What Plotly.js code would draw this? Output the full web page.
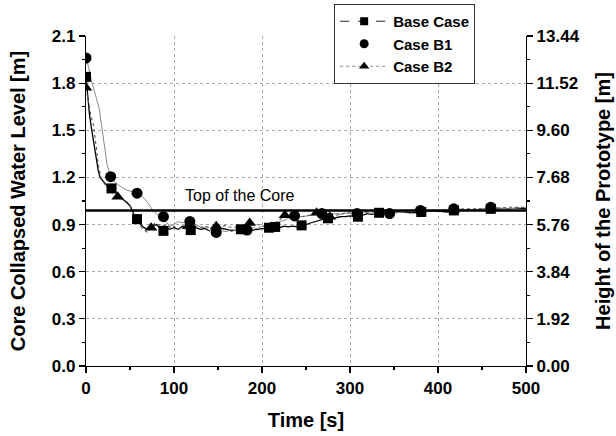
<!DOCTYPE html>
<html>
<head>
<meta charset="utf-8">
<script src="https://cdn.plot.ly/plotly-3.0.1.min.js"></script>
<style>html,body{margin:0;padding:0;background:#fff;}#chart{width:616px;height:436px;}</style>
</head>
<body>
<div id="chart"></div>
<script>
// ---- Data ----
const baseTime = [0,2,4,6,8,10,12,14,16,20,25,29,35,40,45,50,54,58,62,66,70,75,80,85,88,92,95,100,105,110,115,119,125,130,135,140,145,150,155,160,165,170,176,180,185,190,195,200,208,215,220,225,230,235,240,245,250,255,260,265,270,275,280,285,290,295,300,309,315,320,325,333,340,345,352,360,370,381,390,400,410,418,430,440,450,460,470,480,490,500];
const baseLevel = [1.84,1.70,1.60,1.52,1.45,1.38,1.30,1.24,1.20,1.17,1.14,1.13,1.10,1.07,1.05,1.02,0.97,0.935,0.90,0.88,0.87,0.89,0.90,0.87,0.86,0.88,0.87,0.88,0.87,0.89,0.87,0.865,0.88,0.87,0.875,0.86,0.87,0.865,0.875,0.87,0.86,0.865,0.87,0.875,0.87,0.865,0.87,0.875,0.88,0.885,0.88,0.89,0.885,0.89,0.885,0.895,0.90,0.91,0.92,0.93,0.935,0.94,0.935,0.945,0.95,0.95,0.955,0.95,0.96,0.97,0.965,0.975,0.97,0.975,0.98,0.98,0.975,0.98,0.985,0.985,0.98,0.99,0.99,0.995,0.99,1.0,1.0,1.0,1.005,1.0];
const baseMarkTime = [0,29,58,88,119,176,208,215,245,275,309,333,381,418,460];

const b1Time = [0,3,6,9,12,15,18,21,24,28,33,40,46,52,58,64,70,76,82,88,92,96,100,105,110,114,118,125,132,136,140,144,148,155,160,165,170,175,183,190,195,200,205,210,215,220,225,230,237,245,250,255,262,268,275,280,285,290,295,300,308,315,320,326,333,340,345,352,360,370,380,390,400,410,418,430,440,450,460,470,480,490,500];
const b1Level = [1.96,1.90,1.82,1.75,1.70,1.64,1.52,1.40,1.28,1.205,1.17,1.14,1.12,1.11,1.10,1.08,1.04,0.99,0.96,0.95,0.91,0.89,0.90,0.92,0.91,0.925,0.92,0.90,0.88,0.885,0.86,0.87,0.85,0.86,0.855,0.87,0.86,0.86,0.865,0.88,0.875,0.89,0.885,0.90,0.905,0.92,0.925,0.94,0.955,0.95,0.955,0.96,0.965,0.97,0.96,0.965,0.97,0.965,0.975,0.97,0.97,0.98,0.975,0.97,0.975,0.97,0.97,0.975,0.98,0.985,0.99,0.985,0.99,0.99,1.0,0.995,0.995,1.0,1.01,1.005,1.0,1.005,1.01];
const b1MarkTime = [0,28,58,88,118,148,183,237,268,308,345,380,418,460];

const b2Time = [0,2,4,6,8,10,12,14,17,22,28,36,42,48,52,56,60,65,70,74,78,82,86,92,96,100,104,108,112,116,122,126,130,135,140,144,148,153,158,163,168,173,178,186,190,195,200,205,210,215,220,226,230,235,240,245,250,255,262,266,270,277,281,285,290,295,300,305,310,315,322,330,338,345,352,360,370,380,390,400,410,418,430,440,450,460,470,480,490,500];
const b2Level = [1.77,1.70,1.62,1.58,1.55,1.48,1.38,1.28,1.20,1.15,1.11,1.077,1.06,1.04,1.00,0.94,0.90,0.87,0.85,0.88,0.91,0.90,0.89,0.90,0.88,0.89,0.87,0.88,0.875,0.89,0.88,0.885,0.88,0.89,0.88,0.885,0.89,0.88,0.895,0.885,0.88,0.89,0.89,0.91,0.905,0.90,0.895,0.89,0.90,0.91,0.93,0.96,0.955,0.955,0.945,0.95,0.955,0.96,0.975,0.97,0.965,0.95,0.955,0.96,0.965,0.975,0.98,0.98,0.99,0.985,0.98,0.98,0.985,0.985,0.98,0.985,0.99,0.99,0.985,0.99,0.995,0.995,1.0,1.0,1.0,1.0,1.005,1.01,1.01,1.01];
const b2MarkTime = [0,36,74,116,148,186,226,262,277,418,460];

const coreTopTime = [0, 500];
const coreTopLevel = [0.99, 0.99];

const seriesNames = ['Base Case', 'Case B1', 'Case B2'];
const leftTicks = [0, 0.3, 0.6, 0.9, 1.2, 1.5, 1.8, 2.1];
const gridLevels = [0.3, 0.6, 0.9, 1.2, 1.5, 1.8];
const rightTicks = [0, 1.92, 3.84, 5.76, 7.68, 9.60, 11.52, 13.44];
const timeTicks = [0, 100, 200, 300, 400, 500];

// ---- helpers ----
function pick(times, levels, markTimes) {
  return markTimes.map(t => levels[times.indexOf(t)]);
}
const bold = (vals, d) => vals.map(v => '<b>' + v.toFixed(d) + '</b>');

const FONT = 'Liberation Sans, Arial, Helvetica, sans-serif';

const series = [
  {name: seriesNames[0], t: baseTime, v: baseLevel, m: baseMarkTime,
   line: {color: '#000', width: 1.3}, sym: 'square', size: 10,
   legLine: {color: '#222', width: 1, dash: 'dash'}, legMode: 'lines+markers'},
  {name: seriesNames[1], t: b1Time, v: b1Level, m: b1MarkTime,
   line: {color: '#8a8a8a', width: 1}, sym: 'circle', size: 11,
   legLine: {color: '#fff', width: 0}, legMode: 'markers'},
  {name: seriesNames[2], t: b2Time, v: b2Level, m: b2MarkTime,
   line: {color: '#555', width: 1.1, dash: 'dot'}, sym: 'triangle-up', size: 11,
   legLine: {color: '#888', width: 1, dash: 'dot'}, legMode: 'lines+markers'}
];

const traces = [];
series.forEach(s => {
  traces.push({x: s.t, y: s.v, mode: 'lines', line: s.line, showlegend: false, hoverinfo: 'skip'});
});
traces.push({x: coreTopTime, y: coreTopLevel, mode: 'lines', line: {color: '#000', width: 2.6}, showlegend: false});
series.forEach(s => {
  traces.push({x: s.m, y: pick(s.t, s.v, s.m), mode: 'markers',
    marker: {symbol: s.sym, size: s.size, color: '#000'}, showlegend: false});
});
series.forEach((s, i) => {
  traces.push({x: [null], y: [null], name: '<b>' + s.name + '</b>', mode: s.legMode, line: s.legLine,
    marker: {symbol: s.sym, size: s.size - 2, color: '#000'}, showlegend: true,
    yaxis: i === 2 ? 'y2' : 'y'});
});
traces.push({x: [null], y: [null], yaxis: 'y3', showlegend: false, mode: 'lines'});

const TICKFONT = {family: FONT, size: 17, color: '#000', weight: 700};
const TITLEFONT = {family: FONT, size: 20, color: '#000', weight: 700};

const axisCommon = {
  showline: true, linecolor: '#000', linewidth: 1.2,
  ticks: 'outside', ticklen: 6, tickwidth: 1.2, tickcolor: '#000',
  zeroline: false, tickfont: TICKFONT, automargin: false
};

const layout = {
  width: 616, height: 436,
  margin: {l: 86, r: 90, t: 36, b: 70, autoexpand: false},
  paper_bgcolor: '#fff', plot_bgcolor: '#fff',
  font: {family: FONT, color: '#000'},
  showlegend: true,
  legend: {x: 0.564, y: 1.097, xanchor: 'left', yanchor: 'top',
    bgcolor: '#fff', bordercolor: '#333', borderwidth: 1,
    font: {family: FONT, size: 15, color: '#000'},
    itemwidth: 48, tracegroupgap: 0},
  xaxis: Object.assign({}, axisCommon, {
    range: [0, 500], tickvals: timeTicks, ticktext: bold(timeTicks, 0),
    showgrid: true, gridcolor: '#aaa', griddash: 'dot', gridwidth: 1,
    minor: {ticks: 'outside', ticklen: 3, tickcolor: '#000', dtick: 50, tick0: 0, showgrid: false},
    title: {text: 'Time [s]', font: TITLEFONT, standoff: 16}
  }),
  yaxis: Object.assign({}, axisCommon, {
    range: [0, 2.1], tickvals: leftTicks, ticktext: bold(leftTicks, 1), showgrid: false,
    minor: {ticks: 'outside', ticklen: 3, tickcolor: '#000', dtick: 0.15, tick0: 0, showgrid: false},
    title: {text: 'Core Collapsed Water Level [m]', font: TITLEFONT, standoff: 20}
  }),
  yaxis2: Object.assign({}, axisCommon, {
    overlaying: 'y', side: 'right', anchor: 'x',
    range: [0, 13.44], tickvals: rightTicks, ticktext: bold(rightTicks, 2), showgrid: false,
    minor: {ticks: 'outside', ticklen: 3, tickcolor: '#000', dtick: 0.96, tick0: 0, showgrid: false},
    title: {text: 'Height of the Prototype [m]', font: TITLEFONT, standoff: 17}
  }),
  yaxis3: {
    overlaying: 'y', side: 'left', anchor: 'x', layer: 'below traces',
    range: [0, 2.1], tickvals: gridLevels, showticklabels: false, ticks: '',
    showline: false, zeroline: false,
    showgrid: true, gridcolor: '#aaa', griddash: 'dot', gridwidth: 1
  },
  annotations: [{
    x: 110, y: coreTopLevel[0], xref: 'x', yref: 'y', xanchor: 'left', yanchor: 'bottom',
    yshift: 4, text: 'Top of the Core', showarrow: false,
    font: {family: FONT, size: 16, color: '#000'}
  }]
};

Plotly.newPlot('chart', traces, layout, {displayModeBar: false, staticPlot: true});
</script>
</body>
</html>
